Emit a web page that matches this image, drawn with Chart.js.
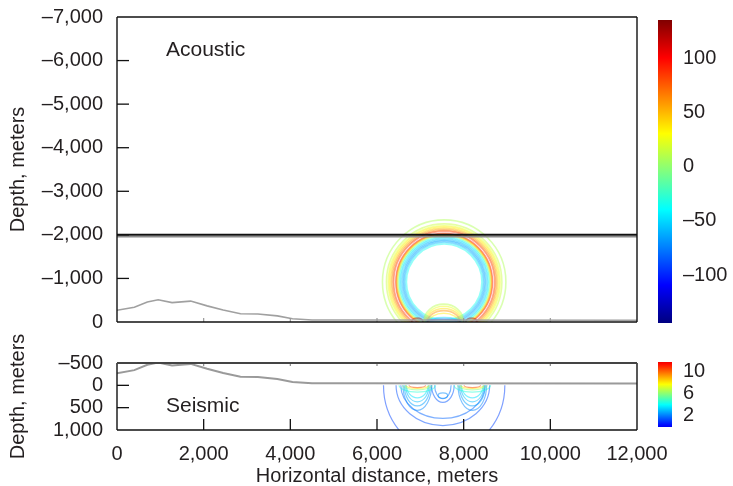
<!DOCTYPE html>
<html>
<head>
<meta charset="utf-8">
<script src="https://cdn.jsdelivr.net/npm/chart.js@4.4.1/dist/chart.umd.min.js"></script>
<style>
  html, body { margin: 0; padding: 0; background: #fff; }
  #wrap { position: relative; width: 733px; height: 486px; overflow: hidden; }
  canvas { position: absolute; }
</style>
</head>
<body>
<div id="wrap">
  <canvas id="acoustic" width="733" height="345" style="left:0;top:0"></canvas>
  <canvas id="seismic" width="733" height="163" style="left:0;top:325px"></canvas>
  <canvas id="acBar" width="88" height="345" style="left:645px;top:0"></canvas>
  <canvas id="sxBar" width="88" height="141" style="left:645px;top:345px"></canvas>
</div>
<script>
"use strict";

// Seafloor profile (distance m, depth m; negative = above datum)
const profileX = [0, 400, 700, 950, 1270, 1700, 2080, 2450, 2850, 3250, 3700, 4050, 4500, 4900, 12000];
const profileDepth = [-270, -340, -460, -510, -445, -480, -370, -275, -190, -185, -140, -75, -45, -45, -40];

// Horizontal reference line in the acoustic panel
const refX = [0, 12000];
const refDepth = [-2000, -2000];
const refShadowDepth = [-1955, -1955];

// Acoustic contours: centre x, centre depth, half-widths, level
const acCx = [7550, 7550, 7550, 7550, 7550, 7550, 7550, 7550, 7550, 7550, 7550, 7550, 7550, 7550, 7550, 7550, 7550,
              7540, 7540, 7540, 7540, 7540, 7540, 7540, 6930, 8180];
const acCz = [-920, -920, -920, -920, -920, -920, -920, -920, -920, -920, -920, -920, -920, -920, -920, -920, -920,
              0, 0, 0, 0, 0, 0, 0, 0, 0];
const acRx = [1424, 1332, 1290, 1258, 1225, 1195, 1165, 1115, 1098, 1082, 1058, 1030, 1000, 965, 935, 905, 871,
              460, 430, 400, 370, 340, 420, 380, 130, 130];
const acRz = [1424, 1332, 1290, 1258, 1225, 1195, 1165, 1115, 1098, 1082, 1058, 1030, 1000, 965, 935, 905, 871,
              410, 360, 310, 260, 200, 100, 60, 90, 90];
const acLevel = [8, 15, 25, 35, 50, 65, 85, 95, 65, 40, 5, -35, -50, -60, -65, -55, -35,
                 10, 25, 40, 60, 35, -50, -100, 120, 120];

// Seismic contours
const sxCx = [7550, 7520, 7520, 7520, 7520, 7520,
              6930, 6930, 6930, 6930, 6930, 6930, 6930, 6930,
              8200, 8200, 8200, 8200, 8200, 8200, 8200, 8200];
const sxCz = [0, 0, 0, 0, 0, 230,
              0, 0, 0, 0, 0, 0, 0, 0,
              0, 0, 0, 0, 0, 0, 0, 0];
const sxRx = [1400, 1080, 970, 260, 190, 110,
              330, 300, 270, 250, 420, 340, 270, 190,
              330, 300, 270, 250, 420, 340, 270, 190];
const sxRz = [1500, 900, 740, 380, 300, 60,
              560, 460, 370, 280, 150, 100, 70, 50,
              560, 460, 370, 280, 150, 100, 70, 50];
const sxLevel = [1.2, 1.4, 1.7, 1.5, 1.9, 2.3,
                 2.2, 2.6, 3.0, 3.6, 4.6, 6, 8, 10.5,
                 2.2, 2.6, 3.0, 3.6, 4.6, 6, 8, 10.5];

// Colour bar ranges and ticks
const acRange = [-144, 135];
const acBarTicks = [-100, -50, 0, 50, 100];
const sxRange = [0, 11.8];
const sxBarTicks = [2, 6, 10];

Chart.defaults.font.family = '"Liberation Sans", Arial, Helvetica, sans-serif';
Chart.defaults.font.size = 20;
Chart.defaults.color = '#231f20';

const zip = (xs, ys) => xs.map((v, i) => ({ x: v, y: ys[i] }));
const fmt = v => (v < 0 ? '\u2013' : '') + Math.abs(v).toLocaleString('en-US');
const noGrid = { display: false, drawTicks: false, tickLength: 0 };
const noPad = s => { s.paddingTop = 0; s.paddingBottom = 0; };

function jet(t) {
    const c = v => Math.round(255 * Math.max(0, Math.min(1, v)));
    return [c(1.5 - Math.abs(4 * t - 3)), c(1.5 - Math.abs(4 * t - 2)), c(1.5 - Math.abs(4 * t - 1))];
}

// Contour rings drawn through the chart scales
function contours(cfg) {
    return {
        id: 'contours',
        beforeDatasetsDraw(chart) {
            const { ctx, chartArea: a, scales: { x, y } } = chart;
            const top = cfg.clipFrom === undefined ? a.top : y.getPixelForValue(cfg.clipFrom);
            ctx.save();
            ctx.beginPath();
            ctx.rect(a.left, top, a.right - a.left, a.bottom - top);
            ctx.clip();
            ctx.lineWidth = cfg.lineWidth;
            cfg.cx.forEach((cx, i) => {
                const px = x.getPixelForValue(cx);
                const py = y.getPixelForValue(cfg.cz[i]);
                const rx = Math.abs(x.getPixelForValue(cx + cfg.rx[i]) - px);
                const ry = Math.abs(y.getPixelForValue(cfg.cz[i] + cfg.rz[i]) - py);
                const t = cfg.tMin + (cfg.level[i] - cfg.range[0]) / (cfg.range[1] - cfg.range[0]) * (cfg.tMax - cfg.tMin);
                const [r, g, b] = jet(t);
                ctx.strokeStyle = `rgba(${r},${g},${b},${cfg.alpha})`;
                ctx.beginPath();
                ctx.ellipse(px, py, rx, ry, 0, 0, 2 * Math.PI);
                ctx.stroke();
            });
            ctx.restore();
        }
    };
}

// Box and inward tick marks
function frame(cfg) {
    return {
        id: 'frame',
        afterDatasetsDraw(chart) {
            const { ctx, chartArea: a, scales: { x, y } } = chart;
            const line = (x1, y1, x2, y2, color, w) => {
                ctx.strokeStyle = color;
                ctx.lineWidth = w;
                ctx.beginPath();
                ctx.moveTo(x1, y1);
                ctx.lineTo(x2, y2);
                ctx.stroke();
            };
            ctx.save();
            x.ticks.slice(1, -1).forEach(t => {
                const px = x.getPixelForValue(t.value);
                cfg.xTicks.forEach(k => {
                    if (k.edge === 'bottom') line(px, a.bottom, px, a.bottom - k.len, k.color, k.width);
                    else line(px, a.top, px, a.top + k.len, k.color, k.width);
                });
            });
            y.ticks.slice(1, -1).forEach(t => {
                const py = y.getPixelForValue(t.value);
                line(a.left, py, a.left + cfg.yTickLen, py, '#111', 1.3);
            });
            line(a.left, a.bottom, a.right, a.bottom, '#111', 1.6);
            line(a.left, a.top, a.left, a.bottom, '#111', 1.4);
            line(a.right, a.top, a.right, a.bottom, '#111', 1.4);
            line(a.left, a.top, a.right, a.top, cfg.topColor, cfg.topWidth);
            ctx.restore();
        }
    };
}

function panelLabel(text, lx, ly) {
    return {
        id: 'panelLabel',
        afterDraw(chart) {
            const { ctx, scales: { x, y } } = chart;
            ctx.save();
            ctx.font = '21px "Liberation Sans", Arial, sans-serif';
            ctx.fillStyle = '#231f20';
            ctx.textAlign = 'left';
            ctx.textBaseline = 'alphabetic';
            ctx.fillText(text, x.getPixelForValue(lx), y.getPixelForValue(ly));
            ctx.restore();
        }
    };
}

function colorbar(range, tMin, tMax) {
    return {
        id: 'colorbar',
        beforeDatasetsDraw(chart) {
            const { ctx, chartArea: a, scales: { y } } = chart;
            const y0 = y.getPixelForValue(range[0]);
            const y1 = y.getPixelForValue(range[1]);
            const grad = ctx.createLinearGradient(0, y0, 0, y1);
            for (let i = 0; i <= 32; i++) {
                const [r, g, b] = jet(tMin + (tMax - tMin) * i / 32);
                grad.addColorStop(i / 32, `rgb(${r},${g},${b})`);
            }
            ctx.save();
            ctx.fillStyle = grad;
            ctx.fillRect(a.left, y1, a.right - a.left, y0 - y1);
            ctx.restore();
        }
    };
}

const baseOptions = () => ({
    responsive: false,
    animation: false,
    events: [],
    plugins: { legend: { display: false }, tooltip: { enabled: false } }
});

function lineSet(xs, ys, color, width) {
    return { data: zip(xs, ys), showLine: true, borderColor: color, borderWidth: width, pointRadius: 0 };
}

// Acoustic panel
new Chart(document.getElementById('acoustic'), {
    type: 'scatter',
    data: {
        datasets: [
            lineSet(profileX, profileDepth, '#a0a0a0', 1.6),
            lineSet(refX, refShadowDepth, '#8a8a8a', 1.5),
            lineSet(refX, refDepth, '#111', 2)
        ]
    },
    options: Object.assign(baseOptions(), {
        layout: { padding: { top: 17, right: 96, left: 0, bottom: 0 } },
        scales: {
            x: {
                type: 'linear', min: 0, max: 12000,
                ticks: { stepSize: 2000, display: false },
                grid: noGrid, border: { display: false },
                afterFit: s => { s.height = 23; }
            },
            y: {
                type: 'linear', reverse: true, min: -7000, max: 0,
                ticks: { stepSize: 1000, padding: 14, callback: fmt, autoSkip: false },
                grid: noGrid, border: { display: false },
                title: { display: true, text: 'Depth, meters', padding: { top: 6, bottom: 0 } },
                afterFit: s => { s.width = 117; noPad(s); }
            }
        }
    }),
    plugins: [
        contours({ cx: acCx, cz: acCz, rx: acRx, rz: acRz, level: acLevel, range: acRange,
                   tMin: 0, tMax: 1, alpha: 0.45, lineWidth: 1.6 }),
        frame({ xTicks: [{ edge: 'bottom', len: 4, color: '#999', width: 1.2 }], yTickLen: 12,
                topColor: '#111', topWidth: 1.4 }),
        panelLabel('Acoustic', 1130, -6105)
    ]
});

// Seismic panel
new Chart(document.getElementById('seismic'), {
    type: 'scatter',
    data: {
        datasets: [lineSet(profileX, profileDepth, '#9a9a9a', 2)]
    },
    options: Object.assign(baseOptions(), {
        layout: { padding: { top: 38, right: 96, left: 0, bottom: 0 } },
        scales: {
            x: {
                type: 'linear', min: 0, max: 12000,
                ticks: { stepSize: 2000, padding: 12, callback: fmt, maxRotation: 0, autoSkip: false },
                grid: noGrid, border: { display: false },
                title: { display: true, text: 'Horizontal distance, meters', padding: { top: 0, bottom: 0 } },
                afterFit: s => { s.height = 58; }
            },
            y: {
                type: 'linear', reverse: true, min: -500, max: 1000,
                ticks: { stepSize: 500, padding: 14, callback: fmt, autoSkip: false },
                grid: noGrid, border: { display: false },
                title: { display: true, text: 'Depth, meters', padding: { top: 6, bottom: 0 } },
                afterFit: s => { s.width = 117; noPad(s); }
            }
        }
    }),
    plugins: [
        contours({ cx: sxCx, cz: sxCz, rx: sxRx, rz: sxRz, level: sxLevel, range: sxRange,
                   tMin: 0.11, tMax: 0.89, alpha: 0.5, lineWidth: 1.2, clipFrom: 0 }),
        frame({ xTicks: [{ edge: 'bottom', len: 11, color: '#111', width: 1.3 },
                         { edge: 'top', len: 3, color: '#888', width: 1.2 }], yTickLen: 12,
                topColor: '#444', topWidth: 2.2 }),
        panelLabel('Seismic', 1130, 598)
    ]
});

// Colour bars
function barChart(id, range, ticks, padTop, padBottom, tMin, tMax) {
    return new Chart(document.getElementById(id), {
        type: 'scatter',
        data: { datasets: [] },
        options: Object.assign(baseOptions(), {
            layout: { padding: { left: 13, top: padTop, bottom: padBottom, right: 0 } },
            scales: {
                x: { display: false, min: 0, max: 1 },
                y: {
                    type: 'linear', position: 'right', min: range[0], max: range[1],
                    afterBuildTicks: s => { s.ticks = ticks.map(v => ({ value: v })); },
                    ticks: { padding: 11, callback: fmt, autoSkip: false },
                    grid: noGrid, border: { display: false },
                    afterFit: s => { s.width = 61; noPad(s); }
                }
            }
        }),
        plugins: [colorbar(range, tMin, tMax)]
    });
}

barChart('acBar', acRange, acBarTicks, 20, 22, 0, 1);
barChart('sxBar', sxRange, sxBarTicks, 17, 59, 0.11, 0.89);
</script>
</body>
</html>
